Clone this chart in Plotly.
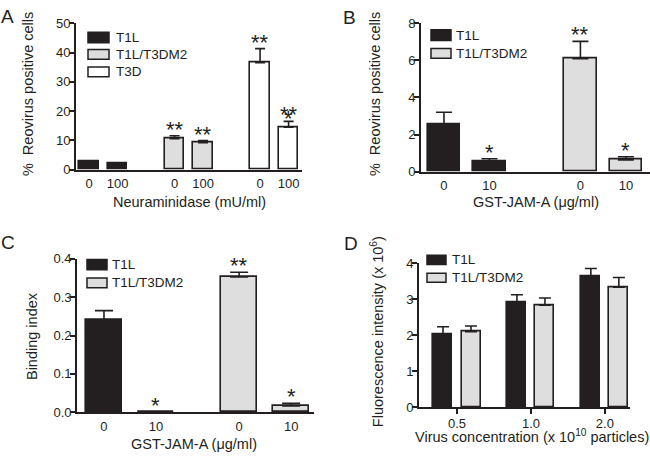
import plotly.graph_objects as go

W, H = 650, 465
INK = "#231f20"
DARK = "#231f20"
LIGHT = "#dedede"
WHITE = "#ffffff"
FONT = "Arial, 'Liberation Sans', sans-serif"

# ---------------- data ----------------
# Panel A: % reovirus positive cells vs neuraminidase (mU/ml)
a_ticks = ["0", "100", "0", "100", "0", "100"]
a_pos = [0, 1, 3, 4, 6, 7]
a_t1l = [2.7, 2.0]
a_t1l_err = [0.3, 0.2]
a_dm2 = [10.6, 9.2]
a_dm2_err = [1.0, 0.7]
a_t3d = [36.6, 14.5]
a_t3d_err = [4.8, 2.0]
a_sig = ["", "", "**", "**", "**", "**"]

# Panel B: % reovirus positive cells vs GST-JAM-A (ug/ml)
b_ticks = ["0", "10", "0", "10"]
b_pos = [0, 1, 3, 4]
b_t1l = [2.55, 0.52]
b_t1l_err = [0.65, 0.17]
b_dm2 = [6.1, 0.63]
b_dm2_err = [0.93, 0.17]
b_sig = ["", "*", "**", "*"]

# Panel C: binding index vs GST-JAM-A (ug/ml)
c_ticks = ["0", "10", "0", "10"]
c_pos = [0, 1, 2.6, 3.6]
c_t1l = [0.24, 0.0]
c_t1l_err = [0.025, 0.0]
c_dm2 = [0.353, 0.016]
c_dm2_err = [0.012, 0.007]
c_sig = ["", "*", "**", "*"]

# Panel D: fluorescence intensity (x10^6) vs virus concentration
d_ticks = ["0.5", "1.0", "2.0"]
d_pos = [0, 1, 2]
d_t1l = [2.03, 2.92, 3.63]
d_t1l_err = [0.21, 0.21, 0.23]
d_dm2 = [2.10, 2.84, 3.34]
d_dm2_err = [0.16, 0.20, 0.27]


def px(x):
    return x / W


def py(y):
    return 1 - y / H


fig = go.Figure()


def bars(x, y, err, fill, xa, ya, width, cap, offset=None):
    kw = {}
    if offset is not None:
        kw["offset"] = offset
    fig.add_trace(go.Bar(
        x=x, y=y, width=width, xaxis=xa, yaxis=ya,
        marker=dict(color=fill, line=dict(color=INK, width=1.6)),
        error_y=dict(type="data", array=err, arrayminus=[0] * len(err),
                     symmetric=False, color=INK, thickness=1.6, width=cap),
        showlegend=False, hoverinfo="skip", **kw))


# Panel A
bars(a_pos[0:2], a_t1l, a_t1l_err, DARK, "x", "y", 0.68, 5)
bars(a_pos[2:4], a_dm2, a_dm2_err, LIGHT, "x", "y", 0.68, 5)
bars(a_pos[4:6], a_t3d, a_t3d_err, WHITE, "x", "y", 0.68, 5)
# Panel B
bars(b_pos[0:2], b_t1l, b_t1l_err, DARK, "x2", "y2", 0.71, 8)
bars(b_pos[2:4], b_dm2, b_dm2_err, LIGHT, "x2", "y2", 0.71, 8)
# Panel C
bars(c_pos[0:2], c_t1l, c_t1l_err, DARK, "x3", "y3", 0.69, 9)
bars(c_pos[2:4], c_dm2, c_dm2_err, LIGHT, "x3", "y3", 0.69, 9)
# Panel D
bars(d_pos, d_t1l, d_t1l_err, DARK, "x4", "y4", 0.257, 6, offset=-0.318)
bars(d_pos, d_dm2, d_dm2_err, LIGHT, "x4", "y4", 0.257, 6, offset=0.061)

axis_common = dict(showline=True, linecolor=INK, linewidth=1.8, showgrid=False,
                   zeroline=False, tickfont=dict(family=FONT, size=13, color=INK),
                   ticks="outside", tickcolor=INK, tickwidth=1.6, ticklen=5)
y_extra = dict(ticklabelstandoff=-4)
x_hidden_ticks = dict(tickcolor="rgba(0,0,0,0)", ticklen=1)

dom = {
    "A": ([76, 302], [17, 168]),
    "B": ([421, 650], [17, 170]),
    "C": ([77, 314], [260.3, 418.7]),
    "D": ([419, 630], [265, 413.7]),
}


def xd(k):
    return [px(dom[k][0][0]), px(dom[k][0][1])]


def yd(k):
    return [py(dom[k][1][1]), py(dom[k][1][0])]


fig.update_layout(
    width=W, height=H, margin=dict(l=0, r=0, t=0, b=0),
    paper_bgcolor="white", plot_bgcolor="rgba(0,0,0,0)", bargap=0,
    font=dict(family=FONT, color=INK),
    xaxis=dict(axis_common, **x_hidden_ticks, domain=xd("A"), range=[-0.456, 7.47],
               tickmode="array", tickvals=a_pos, ticktext=a_ticks, anchor="y"),
    yaxis=dict(axis_common, **y_extra, domain=yd("A"), range=[0, 50], dtick=10, anchor="x"),
    xaxis2=dict(axis_common, **x_hidden_ticks, domain=xd("B"), range=[-0.505, 4.53],
                tickmode="array", tickvals=b_pos, ticktext=b_ticks, anchor="y2"),
    yaxis2=dict(axis_common, **y_extra, domain=yd("B"), range=[0, 8], dtick=2, anchor="x2"),
    xaxis3=dict(axis_common, **x_hidden_ticks, domain=xd("C"), range=[-0.519, 4.04],
                tickmode="array", tickvals=c_pos, ticktext=c_ticks, anchor="y3"),
    yaxis3=dict(axis_common, **y_extra, domain=yd("C"), range=[0, 0.4], dtick=0.1,
                tickformat=".1f", anchor="x3"),
    xaxis4=dict(axis_common, ticklabelstandoff=-2, domain=xd("D"), range=[-0.514, 2.34],
                tickmode="array", tickvals=d_pos, ticktext=d_ticks, anchor="y4"),
    yaxis4=dict(axis_common, **y_extra, domain=yd("D"), range=[0, 4], dtick=1, anchor="x4"),
)

ann = []
shapes = []

# left axis lines, coinciding with plotly's own y-axis lines
for k in "ABCD":
    x0 = dom[k][0][0] - 0.9
    shapes.append(dict(type="line", xref="paper", yref="paper",
                       x0=px(x0), x1=px(x0), y0=py(dom[k][1][1] + 0.9), y1=py(dom[k][1][0]),
                       line=dict(color=INK, width=1.8), layer="above"))


def text(x, y, s, size, xanchor="center", yanchor="middle", angle=0):
    ann.append(dict(x=px(x), y=py(y), xref="paper", yref="paper", text=s, showarrow=False,
                    xanchor=xanchor, yanchor=yanchor, textangle=angle,
                    font=dict(family=FONT, size=size, color=INK)))


TS = 14.5
# panel letters
text(7.5, 10, "A", 19)
text(349, 11, "B", 19)
text(7.5, 243.5, "C", 19)
text(351, 244.5, "D", 19)

# axis titles
text(28, 90, "%  Reovirus positive cells", TS, angle=-90)
text(189.5, 202, "Neuraminidase (mU/ml)", TS)
text(375, 90, "%  Reovirus positive cells", TS, angle=-90)
text(536, 202, "GST-JAM-A (\u03bcg/ml)", TS)
text(32, 340, "Binding index", TS, angle=-90)
text(194, 451.5, "GST-JAM-A (\u03bcg/ml)", TS)
text(377, 336, "Fluorescence intensity (x 10<sup>6</sup>)", TS, angle=-90)
text(532, 443, "Virus concentration (x 10<sup>10</sup> particles)", TS)


def legend_item(x0, x1, y0, y1, fill, label, tx):
    shapes.append(dict(type="rect", xref="paper", yref="paper", x0=px(x0), x1=px(x1),
                       y0=py(y1), y1=py(y0), fillcolor=fill, line=dict(color=INK, width=1.5)))
    text(tx, (y0 + y1) / 2, label, 13.5, xanchor="left")


legend_item(88, 109, 26, 37, DARK, "T1L", 114)
legend_item(88, 109, 44, 54, LIGHT, "T1L/T3DM2", 114)
legend_item(88, 109, 62, 72, WHITE, "T3D", 114)
legend_item(431, 451, 23.5, 34.5, DARK, "T1L", 454)
legend_item(431, 451, 43, 53, LIGHT, "T1L/T3DM2", 454)
legend_item(87, 107, 261, 271.5, DARK, "T1L", 110)
legend_item(87, 107, 280, 290, LIGHT, "T1L/T3DM2", 110)
legend_item(427, 446, 256.5, 266, DARK, "T1L", 450)
legend_item(427, 446, 275, 284.5, LIGHT, "T1L/T3DM2", 450)


# significance asterisks
def stars(xa, ya, xs, tops, sig, shift=-8):
    for xv, top, s in zip(xs, tops, sig):
        if s:
            ann.append(dict(x=xv, y=top, xref=xa, yref=ya, text=s, showarrow=False,
                            xanchor="center", yanchor="bottom", yshift=shift,
                            font=dict(family=FONT, size=22, color=INK)))


a_vals = a_t1l + a_dm2 + a_t3d
a_errs = a_t1l_err + a_dm2_err + a_t3d_err
a_tops = [v + e for v, e in zip(a_vals, a_errs)]
stars("x", "y", a_pos, a_tops, a_sig)
stars("x", "y", a_pos[5:], a_tops[5:], ["*"], shift=-12)

b_tops = [v + e for v, e in zip(b_t1l + b_dm2, b_t1l_err + b_dm2_err)]
stars("x2", "y2", b_pos, b_tops, b_sig)
c_tops = [v + e for v, e in zip(c_t1l + c_dm2, c_t1l_err + c_dm2_err)]
stars("x3", "y3", c_pos, c_tops, c_sig)

fig.update_layout(annotations=ann, shapes=shapes)
fig.write_html("out.html", config={"displayModeBar": False},
               post_script="document.body.style.margin='0';document.body.style.padding='0';"
                           "document.documentElement.style.overflow='hidden';")
